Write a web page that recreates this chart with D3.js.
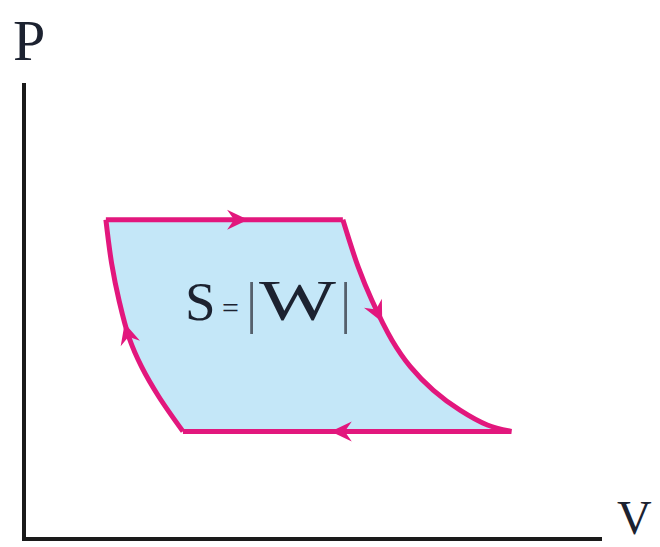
<!DOCTYPE html>
<meta charset="utf-8">
<script src="https://cdn.jsdelivr.net/npm/d3@7"></script>
<style>
body { margin: 0; background: #fff; }
.axis { stroke: #1a1a1a; stroke-width: 4px; fill: none; }
.cycle { stroke: #e2177d; stroke-width: 5px; fill: none; stroke-linejoin: miter; }
.area { fill: #c4e7f8; stroke: none; }
.arrow { fill: #e2177d; }
text { font-family: "Times New Roman", "Liberation Serif", serif; fill: #1c2230; }
</style>
<body>
<script>

// cycle, in V / P units
var topLine    = [[0.85, 3.50], [3.31, 3.50]];
var rightCurve = [[3.31, 3.50], [3.47, 2.98], [3.61, 2.62], [3.82, 2.18], [4.01, 1.89],
                  [4.25, 1.63], [4.53, 1.41], [4.81, 1.25], [5.06, 1.18]];
var bottomLine = [[5.06, 1.18], [1.65, 1.18]];
var leftCurve  = [[1.65, 1.18], [1.40, 1.56], [1.22, 1.89], [1.09, 2.21], [0.99, 2.60],
                  [0.91, 3.02], [0.85, 3.50]];
// where the arrow tips sit along each leg (fraction of length)
var arrowAt = [0.60, 0.385, 0.55, 0.54];

var width = 660,
    height = 547;

var x = d3.scaleLinear().domain([0, 6]).range([24, 602]);
var y = d3.scaleLinear().domain([0, 5]).range([539, 83]);

var svg = d3.select("body").append("svg")
    .attr("width", width)
    .attr("height", height);

// axes, no ticks
svg.append("path")
    .attr("class", "axis")
    .attr("d", "M" + x(0) + "," + y(5) + "V" + y(0) + "H" + x(6));

var line = d3.line()
    .x(function(d) { return x(d[0]); })
    .y(function(d) { return y(d[1]); })
    .curve(d3.curveCatmullRom.alpha(0.5));

var legs = [topLine, rightCurve, bottomLine, leftCurve];

// filled area = all legs joined
var areaD = legs.map(function(l, i) {
    var s = line(l);
    return i == 0 ? s : "L" + s.slice(1);
}).join("") + "Z";

svg.append("path").attr("class", "area").attr("d", areaD);

var paths = svg.append("g")
    .selectAll("path")
    .data(legs)
    .enter()
    .append("path")
    .attr("class", "cycle")
    .attr("d", line);

// arrowheads
paths.each(function(d, i) {
    var len = this.getTotalLength();
    var p = this.getPointAtLength(len * arrowAt[i]);
    var q = this.getPointAtLength(len * arrowAt[i] - 4);
    var ang = Math.atan2(p.y - q.y, p.x - q.x) * 180 / Math.PI;
    svg.append("path")
        .attr("class", "arrow")
        .attr("d", "M0,0L-21,-10L-14,0L-21,10Z")
        .attr("transform", "translate(" + p.x + "," + p.y + ") rotate(" + ang + ")");
});

// labels
svg.append("text").attr("x", 13).attr("y", 60).attr("font-size", 58).text("P");
svg.append("text").attr("x", 617).attr("y", 534).attr("font-size", 48).text("V");

var lab = svg.append("g");
lab.append("text").attr("x", 185).attr("y", 320).attr("font-size", 55).text("S");
lab.append("text").attr("x", 222).attr("y", 318).attr("font-size", 30).text("=");
lab.append("text").attr("x", 246).attr("y", 322).attr("font-size", 56)
    .style("fill", "#55606c").text("|");
lab.append("text").attr("x", 259).attr("y", 320).attr("font-size", 58)
    .attr("textLength", 77).attr("lengthAdjust", "spacingAndGlyphs").text("W");
lab.append("text").attr("x", 340).attr("y", 322).attr("font-size", 56)
    .style("fill", "#55606c").text("|");

</script>
</body>
